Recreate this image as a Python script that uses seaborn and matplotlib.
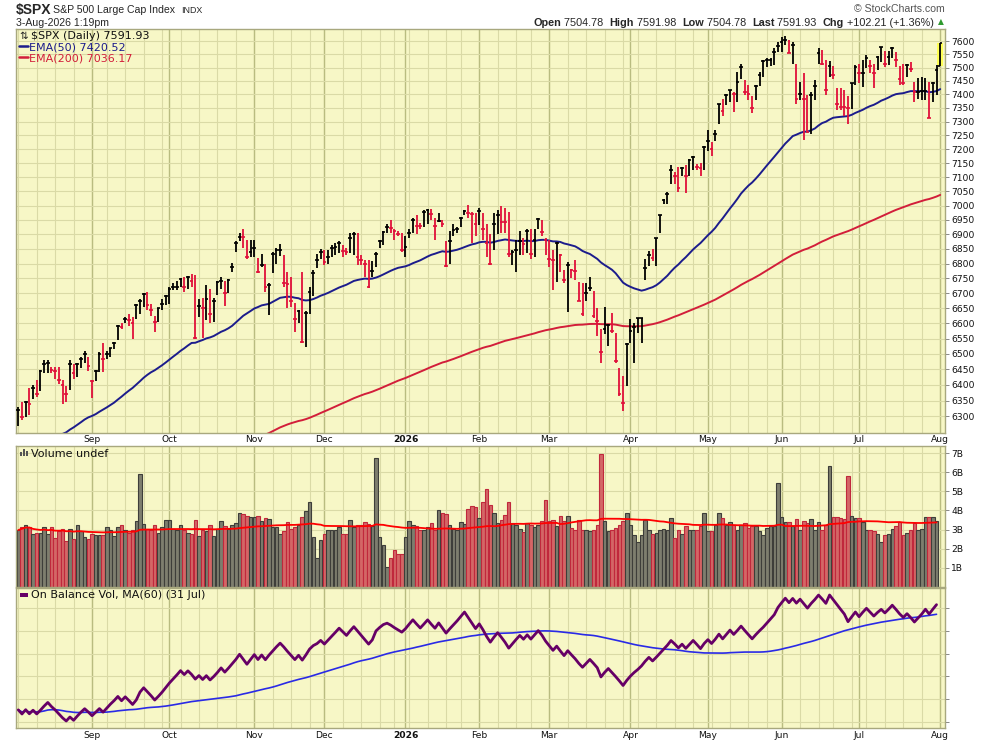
import numpy as np
import pandas as pd
import matplotlib
matplotlib.use("Agg")
import matplotlib.pyplot as plt
import seaborn as sns
from matplotlib.ticker import FixedLocator, NullLocator, FixedFormatter, NullFormatter
from matplotlib.patches import Rectangle

# ---------------------------------------------------------------- data
first_day = "2025-08-04"
last_day = "2026-08-03"
market_holidays = ["2025-09-01", "2025-11-27", "2025-12-25", "2026-01-01", "2026-01-19",
                   "2026-02-16", "2026-04-03", "2026-05-25", "2026-06-19", "2026-07-03"]

closes = [
    6320, 6298, 6345, 6340, 6390, 6370, 6445, 6468, 6470, 6447,
    6445, 6415, 6400, 6370, 6468, 6437, 6468, 6485, 6500, 6460,
    6413, 6446, 6500, 6485, 6500, 6518, 6535, 6590, 6587, 6615,
    6610, 6602, 6662, 6675, 6697, 6662, 6643, 6605, 6650, 6665,
    6692, 6715, 6720, 6722, 6747, 6720, 6753, 6740, 6552, 6657,
    6650, 6680, 6630, 6673, 6738, 6740, 6700, 6745, 6790, 6872,
    6892, 6890, 6823, 6838, 6852, 6773, 6795, 6722, 6728, 6834,
    6846, 6848, 6735, 6732, 6673, 6615, 6640, 6538, 6635, 6705,
    6768, 6811, 6840, 6805, 6823, 6852, 6858, 6870, 6844, 6840,
    6888, 6900, 6823, 6811, 6800, 6722, 6776, 6834, 6876, 6908,
    6925, 6922, 6912, 6900, 6846, 6858, 6906, 6949, 6930, 6928,
    6976, 6985, 6970, 6928, 6946, 6937, 6792, 6876, 6915, 6918,
    6955, 6980, 6975, 6972, 6937, 6980, 6918, 6870, 6797, 6937,
    6967, 6943, 6942, 6834, 6840, 6846, 6876, 6867, 6912, 6834,
    6882, 6953, 6908, 6882, 6814, 6811, 6872, 6828, 6743, 6794,
    6778, 6775, 6675, 6631, 6701, 6717, 6624, 6607, 6507, 6580,
    6596, 6575, 6477, 6370, 6343, 6531, 6575, 6589, 6616, 6618,
    6784, 6829, 6818, 6888, 6966, 7020, 7041, 7124, 7103, 7062,
    7133, 7106, 7162, 7171, 7136, 7134, 7207, 7228, 7201, 7255,
    7363, 7338, 7397, 7416, 7403, 7447, 7502, 7409, 7403, 7351,
    7431, 7472, 7525, 7527, 7530, 7559, 7581, 7597, 7604, 7553,
    7585, 7382, 7403, 7384, 7261, 7397, 7431, 7553, 7515, 7418,
    7505, 7472, 7363, 7353, 7352, 7351, 7441, 7502, 7480, 7481,
    7534, 7505, 7480, 7541, 7576, 7515, 7541, 7572, 7528, 7456,
    7441, 7509, 7496, 7409, 7410, 7411, 7412, 7314, 7441, 7489.72,
    7591.93,
]

opens = [
    6320, 6298, 6345, 6340, 6390, 6370, 6445, 6468, 6470, 6447,
    6445, 6415, 6400, 6370, 6468, 6437, 6468, 6485, 6500, 6460,
    6413, 6446, 6500, 6485, 6500, 6518, 6535, 6590, 6587, 6615,
    6610, 6602, 6662, 6675, 6697, 6662, 6643, 6605, 6650, 6665,
    6692, 6715, 6720, 6722, 6747, 6720, 6753, 6740, 6552, 6657,
    6650, 6680, 6630, 6673, 6738, 6740, 6700, 6745, 6790, 6872,
    6892, 6890, 6823, 6838, 6852, 6773, 6795, 6722, 6728, 6834,
    6846, 6848, 6735, 6732, 6673, 6615, 6640, 6538, 6635, 6705,
    6768, 6811, 6840, 6805, 6823, 6852, 6858, 6870, 6844, 6840,
    6888, 6900, 6823, 6811, 6800, 6722, 6776, 6834, 6876, 6908,
    6925, 6922, 6912, 6900, 6846, 6858, 6906, 6949, 6930, 6928,
    6976, 6985, 6970, 6928, 6946, 6937, 6792, 6876, 6915, 6918,
    6955, 6980, 6975, 6972, 6937, 6980, 6918, 6870, 6797, 6937,
    6967, 6943, 6942, 6834, 6840, 6846, 6876, 6867, 6912, 6834,
    6882, 6953, 6908, 6882, 6814, 6811, 6872, 6828, 6743, 6794,
    6778, 6775, 6675, 6631, 6701, 6717, 6624, 6607, 6507, 6580,
    6596, 6575, 6477, 6370, 6343, 6531, 6575, 6589, 6616, 6618,
    6784, 6829, 6818, 6888, 6966, 7020, 7041, 7124, 7103, 7062,
    7133, 7106, 7162, 7171, 7136, 7134, 7207, 7228, 7201, 7255,
    7363, 7338, 7397, 7416, 7403, 7447, 7502, 7409, 7403, 7351,
    7431, 7472, 7525, 7527, 7530, 7559, 7581, 7597, 7604, 7553,
    7585, 7382, 7403, 7384, 7261, 7397, 7431, 7553, 7515, 7418,
    7505, 7472, 7363, 7353, 7352, 7351, 7441, 7502, 7480, 7481,
    7534, 7505, 7480, 7541, 7576, 7515, 7541, 7572, 7528, 7456,
    7441, 7509, 7496, 7409, 7410, 7411, 7412, 7314, 7441, 7489.72,
    7504.78,
]

highs = [
    6330, 6345, 6350, 6390, 6400, 6415, 6447, 6480, 6480, 6458,
    6458, 6458, 6415, 6395, 6480, 6468, 6470, 6490, 6510, 6490,
    6415, 6448, 6505, 6535, 6508, 6520, 6540, 6593, 6600, 6620,
    6630, 6622, 6665, 6680, 6700, 6705, 6665, 6625, 6652, 6680,
    6695, 6720, 6735, 6742, 6750, 6755, 6758, 6765, 6762, 6680,
    6683, 6728, 6715, 6683, 6742, 6753, 6742, 6748, 6802, 6877,
    6905, 6917, 6882, 6880, 6880, 6820, 6834, 6800, 6733, 6840,
    6852, 6868, 6828, 6772, 6753, 6667, 6643, 6772, 6640, 6722,
    6778, 6834, 6850, 6848, 6848, 6864, 6870, 6876, 6864, 6852,
    6906, 6908, 6906, 6829, 6811, 6811, 6808, 6840, 6882, 6912,
    6937, 6949, 6918, 6912, 6906, 6894, 6918, 6955, 6967, 6940,
    6985, 6989, 6989, 6957, 6973, 6949, 6876, 6912, 6937, 6925,
    6961, 6985, 7001, 6979, 6973, 6991, 6973, 6937, 6900, 6973,
    6985, 6997, 6990, 6979, 6846, 6882, 6912, 6888, 6918, 6920,
    6918, 6958, 6949, 6888, 6880, 6845, 6874, 6834, 6778, 6806,
    6783, 6811, 6739, 6734, 6734, 6754, 6706, 6651, 6580, 6654,
    6597, 6635, 6569, 6455, 6428, 6537, 6613, 6602, 6618, 6618,
    6816, 6844, 6850, 6888, 6966, 7024, 7047, 7142, 7118, 7136,
    7136, 7142, 7165, 7174, 7148, 7150, 7213, 7270, 7225, 7270,
    7366, 7384, 7403, 7418, 7409, 7484, 7515, 7453, 7434, 7393,
    7434, 7484, 7528, 7534, 7534, 7572, 7597, 7614, 7619, 7604,
    7597, 7515, 7447, 7480, 7397, 7409, 7453, 7575, 7566, 7528,
    7525, 7505, 7422, 7422, 7418, 7393, 7443, 7509, 7515, 7530,
    7547, 7530, 7515, 7543, 7578, 7563, 7563, 7578, 7559, 7505,
    7515, 7515, 7521, 7447, 7459, 7466, 7459, 7447, 7447, 7509,
    7591.98,
]

lows = [
    6270, 6288, 6298, 6305, 6355, 6360, 6382, 6437, 6437, 6437,
    6420, 6403, 6340, 6345, 6383, 6420, 6425, 6455, 6470, 6445,
    6358, 6413, 6440, 6440, 6485, 6490, 6515, 6545, 6580, 6600,
    6590, 6550, 6615, 6630, 6655, 6645, 6625, 6570, 6605, 6645,
    6660, 6665, 6710, 6710, 6720, 6705, 6715, 6720, 6550, 6620,
    6553, 6610, 6600, 6605, 6695, 6715, 6657, 6700, 6772, 6840,
    6877, 6852, 6817, 6822, 6822, 6767, 6790, 6705, 6628, 6767,
    6800, 6825, 6722, 6650, 6655, 6572, 6600, 6537, 6522, 6630,
    6690, 6785, 6815, 6795, 6800, 6823, 6829, 6835, 6823, 6829,
    6835, 6829, 6794, 6794, 6754, 6718, 6754, 6787, 6852, 6864,
    6906, 6906, 6882, 6894, 6840, 6823, 6888, 6906, 6900, 6918,
    6925, 6937, 6949, 6882, 6943, 6925, 6790, 6800, 6894, 6906,
    6925, 6967, 6955, 6870, 6894, 6931, 6882, 6823, 6794, 6846,
    6900, 6906, 6906, 6823, 6794, 6770, 6829, 6829, 6835, 6817,
    6823, 6918, 6894, 6829, 6789, 6712, 6739, 6772, 6734, 6637,
    6750, 6745, 6673, 6624, 6673, 6706, 6618, 6558, 6472, 6564,
    6526, 6569, 6472, 6364, 6317, 6396, 6537, 6472, 6569, 6537,
    6743, 6793, 6810, 6791, 6905, 7006, 7006, 7077, 7077, 7047,
    7106, 7044, 7106, 7124, 7124, 7106, 7124, 7195, 7174, 7231,
    7292, 7319, 7359, 7372, 7335, 7372, 7456, 7397, 7378, 7331,
    7378, 7431, 7466, 7502, 7505, 7509, 7559, 7559, 7585, 7553,
    7515, 7366, 7378, 7234, 7261, 7255, 7378, 7515, 7509, 7397,
    7466, 7456, 7341, 7341, 7322, 7292, 7347, 7434, 7441, 7428,
    7500, 7478, 7422, 7490, 7521, 7502, 7509, 7534, 7502, 7434,
    7434, 7466, 7484, 7372, 7384, 7378, 7378, 7314, 7372, 7397,
    7504.78,
]

# daily volume in billions (last session not yet reported -> "undef")
volume_b = [
    2.97, 3.11, 3.23, 3.11, 2.74, 2.84, 2.84, 3.11, 2.74, 3.11,
    2.53, 2.93, 3.05, 2.39, 3.02, 2.50, 3.23, 2.93, 2.60, 2.50,
    2.79, 2.69, 2.69, 2.69, 3.11, 3.00, 2.65, 3.11, 3.23, 2.97,
    2.84, 2.97, 3.44, 5.90, 3.28, 3.02, 2.97, 3.26, 2.84, 3.11,
    3.49, 3.49, 3.05, 3.00, 3.23, 3.00, 2.84, 2.74, 3.49, 2.67,
    3.00, 2.91, 3.26, 2.64, 3.05, 3.44, 3.19, 3.05, 3.23, 3.32,
    3.89, 3.80, 3.72, 3.63, 3.63, 3.72, 3.44, 3.58, 3.53, 3.11,
    3.11, 2.79, 2.91, 3.37, 3.05, 3.11, 3.26, 3.66, 3.96, 4.42,
    2.62, 1.48, 2.44, 2.79, 2.97, 2.97, 2.97, 3.11, 2.74, 2.74,
    3.49, 3.11, 3.26, 3.26, 3.37, 3.28, 3.20, 6.77, 2.62, 2.18,
    1.05, 1.48, 1.92, 1.69, 1.69, 2.62, 3.44, 3.26, 3.18, 3.00,
    3.00, 3.14, 3.32, 3.00, 4.01, 3.89, 3.80, 3.23, 3.02, 3.00,
    3.37, 3.30, 4.10, 4.22, 4.19, 3.58, 4.45, 5.10, 4.28, 3.84,
    3.32, 3.49, 3.75, 4.45, 3.32, 3.26, 3.05, 2.88, 3.32, 3.23,
    3.14, 3.26, 3.44, 4.54, 3.44, 3.49, 3.18, 3.70, 3.44, 3.70,
    3.10, 2.97, 3.49, 2.97, 3.00, 2.91, 3.00, 3.23, 6.98, 3.44,
    2.91, 3.00, 3.10, 3.26, 3.44, 3.84, 3.26, 2.69, 2.32, 2.69,
    3.49, 2.97, 2.74, 2.84, 3.00, 3.05, 2.97, 3.58, 2.58, 2.97,
    2.79, 3.18, 3.00, 3.00, 3.00, 3.18, 3.89, 2.91, 2.91, 3.23,
    3.84, 3.58, 3.26, 3.37, 3.26, 3.00, 3.26, 3.32, 3.10, 3.18,
    3.18, 2.91, 2.69, 3.10, 3.18, 3.18, 5.46, 3.63, 3.37, 3.37,
    3.18, 3.53, 2.97, 3.44, 3.32, 3.53, 2.97, 3.37, 3.00, 3.26,
    6.32, 3.63, 3.63, 3.58, 3.53, 5.79, 3.73, 3.60, 3.58, 3.37,
    3.00, 2.97, 2.91, 2.74, 2.32, 2.69, 2.79, 3.05, 3.18, 3.37,
    2.69, 2.84, 2.97, 3.32, 2.97, 3.05, 3.63, 3.63, 3.63, 3.44,
]

ema50_seed = 6138.0
ema200_seed = 5868.0
ema50_label_value = 7420.52
ema200_label_value = 7036.17

price_ticks = list(range(6300, 7601, 50))
volume_ticks = [1, 2, 3, 4, 5, 6, 7]
volume_tick_labels = ["1B", "2B", "3B", "4B", "5B", "6B", "7B"]
month_labels = ["Sep", "Oct", "Nov", "Dec", "2026", "Feb", "Mar", "Apr", "May", "Jun", "Jul", "Aug"]

# ---------------------------------------------------------------- derived
days = pd.bdate_range(first_day, last_day)
days = days[~days.isin(pd.to_datetime(market_holidays))]
n = min(len(days), len(closes))
days = days[:n]
idx = np.arange(n)
o = np.array(opens[:n], float)
h = np.array(highs[:n], float)
l = np.array(lows[:n], float)
c = np.array(closes[:n], float)
down = np.r_[False, c[1:] < c[:-1]]

month_idx = [i for i in range(1, n) if days[i].month != days[i - 1].month]
week_idx = [i for i in range(n) if i == 0 or days[i].weekday() < days[i - 1].weekday()]


def ema(vals, span, seed):
    a = 2.0 / (span + 1)
    e = seed
    out = []
    for v in vals:
        e = e + a * (v - e)
        out.append(e)
    return np.array(out)


ema50 = ema(c, 50, ema50_seed)
ema200 = ema(c, 200, ema200_seed)

vol = np.array(volume_b, float)
nv = len(vol)
vidx = np.arange(nv)
vol_ma = pd.Series(vol).rolling(50, min_periods=1).mean().values
sgn = np.r_[0, np.sign(c[1:nv] - c[:nv - 1])]
obv = np.cumsum(sgn * vol)
obv_ma = pd.Series(obv).rolling(60, min_periods=1).mean().values

# ---------------------------------------------------------------- style
sns.set_theme(style="white")
plt.rcParams["font.family"] = ["DejaVu Sans"]
BG = "#F7F7C6"
GRID = "#DADAA6"
GRID_M = "#B9BC80"
FRAME = "#A8A87E"
UPC = "#000000"
DNC = "#E0103A"

W, H = 990, 744
fig = plt.figure(figsize=(W / 100, H / 100), dpi=100)
fig.patch.set_facecolor("white")


def rect(lft, top, rgt, bot):
    return [lft / W, 1 - bot / H, (rgt - lft) / W, (bot - top) / H]


axp = fig.add_axes(rect(16, 29.3, 945, 432.5))
axv = fig.add_axes(rect(16, 446, 945, 586.7))
axo = fig.add_axes(rect(16, 588, 945, 728.3))
XL = (-0.62, 251.3)

for ax in (axp, axv, axo):
    ax.set_facecolor(BG)
    ax.set_xlim(*XL)
    for s in ax.spines.values():
        s.set_color(FRAME)
        s.set_linewidth(1.0)
    for i in week_idx:
        ax.axvline(i, color=GRID, lw=0.8, zorder=0)
    for i in month_idx:
        ax.axvline(i, color=GRID_M, lw=1.0, zorder=0)
    ax.yaxis.tick_right()
    ax.tick_params(axis="y", which="major", length=3, width=0.7, color="#888888",
                   labelsize=6.6, pad=1.5, right=True, left=False,
                   labelright=True, labelleft=False, labelcolor="#111111")
    ax.tick_params(axis="x", length=0, labelsize=6.6, pad=2.0, labelcolor="#111111")
    ax.set_xlabel("")
    ax.set_ylabel("")

# ---------------- price panel
axp.set_yscale("log")
axp.set_ylim(6249.6, 7644.6)
axp.yaxis.set_major_locator(FixedLocator(price_ticks))
axp.yaxis.set_major_formatter(FixedFormatter([str(t) for t in price_ticks]))
axp.yaxis.set_minor_locator(NullLocator())
axp.yaxis.set_minor_formatter(NullFormatter())
for t in price_ticks:
    axp.axhline(t, color=GRID, lw=0.8, zorder=0)

# highlight of the latest session
axp.add_patch(Rectangle((n - 1 - 0.9, o[-1]), 1.6, c[-1] - o[-1], facecolor="#FFFF55",
                        edgecolor="none", zorder=1.5))

cols = np.where(down, DNC, UPC)
cols[-1] = UPC
axp.vlines(idx, l, h, colors=cols, lw=1.3, zorder=3)
axp.hlines(o, idx - 0.5, idx, colors=cols, lw=1.2, zorder=3)
axp.hlines(c, idx, idx + 0.5, colors=cols, lw=1.2, zorder=3)

sns.lineplot(x=idx, y=ema200, ax=axp, color="#D21E3A", lw=1.4, zorder=2, legend=False)
sns.lineplot(x=idx, y=ema50, ax=axp, color="#1C1C8C", lw=1.4, zorder=2, legend=False)
axp.set_xlim(*XL)
axp.set_ylim(6249.6, 7644.6)
axp.set_xticks(month_idx)
axp.set_xticklabels(month_labels)
axp.set_xlabel("")
axp.set_ylabel("")

# ---------------- volume panel
fills = np.where(down[:nv], "#D46666", "#7E7E6E")
edges = np.where(down[:nv], "#C0283C", "#3E3E3A")
for t in volume_ticks:
    axv.axhline(t, color=GRID, lw=0.8, zorder=0)
axv.bar(vidx, vol, width=0.95, color=fills, edgecolor=edges, linewidth=0.8, zorder=2)
sns.lineplot(x=vidx, y=vol_ma, ax=axv, color="#FF0000", lw=1.3, zorder=3, legend=False)
axv.set_ylim(0, 7.38)
axv.set_xlim(*XL)
axv.set_yticks(volume_ticks)
axv.set_yticklabels(volume_tick_labels)
axv.set_xticks(month_idx)
axv.set_xticklabels([])
axv.set_xlabel("")
axv.set_ylabel("")

# ---------------- OBV panel
lo = min(obv.min(), obv_ma.min())
hi = max(obv.max(), obv_ma.max())
s_px = (hi - lo) / (721 - 595)
top = hi + (595 - 588) * s_px
bot = lo - (728.3 - 721) * s_px
gvals = [top - (p - 588) * s_px for p in (608, 631, 653.5, 676, 699, 722)]
for g in gvals:
    axo.axhline(g, color=GRID, lw=0.8, zorder=0)
sns.lineplot(x=vidx, y=obv_ma, ax=axo, color="#2A2AE6", lw=1.2, zorder=2, legend=False)
sns.lineplot(x=vidx, y=obv, ax=axo, color="#660066", lw=2.0, zorder=3, legend=False)
axo.set_ylim(bot, top)
axo.set_xlim(*XL)
axo.set_yticks(gvals)
axo.set_yticklabels([])
axo.set_xticks(month_idx)
axo.set_xticklabels(month_labels)
axo.set_xlabel("")
axo.set_ylabel("")

for ax in (axp, axo):
    for lab in ax.get_xticklabels():
        if lab.get_text() == "2026":
            lab.set_fontweight("bold")


# ---------------- texts
def ftxt(x, y, s, **kw):
    kw.setdefault("va", "baseline")
    return fig.text(x / W, 1 - y / H, s, **kw)


ftxt(16, 13.6, "$SPX", fontsize=10, fontweight="bold", family="Liberation Sans")
ftxt(53, 12.8, "S&P 500 Large Cap Index", fontsize=7.6, family="Liberation Sans")
ftxt(181, 12.8, "INDX", fontsize=6.4, family="Liberation Sans")
ftxt(16, 25.5, "3-Aug-2026 1:19pm", fontsize=7.6, family="Liberation Sans")
ftxt(945, 12.0, "\u00a9 StockCharts.com", fontsize=7.6, family="Liberation Sans",
     color="#555555", ha="right")

prev = c[-2]
chg = c[-1] - prev
pieces = [("Open", True, 0), (" %.2f" % o[-1], False, 6), ("High", True, 0),
          (" %.2f" % h[-1], False, 6), ("Low", True, 0), (" %.2f" % l[-1], False, 6),
          ("Last", True, 0), (" %.2f" % c[-1], False, 6), ("Chg", True, 0),
          (" %+.2f (%+.2f%%)" % (chg, chg / prev * 100), False, 3)]
renderer = fig.canvas.get_renderer()
objs = []
total = 0.0
for txt, bold, gap in pieces:
    t = ftxt(0, 25.5, txt, fontsize=7.8, family="Liberation Sans",
             fontweight="bold" if bold else "normal")
    w = t.get_window_extent(renderer).width
    objs.append((t, w, gap))
    total += w + gap
x0 = 937 - total
for t, w, gap in objs:
    t.set_x(x0 / W)
    x0 += w + gap
ftxt(938, 24.5, "\u25b2", fontsize=5.5, color="#2E9A2E")

# legends
ftxt(19, 39.3, "\u21c5", fontsize=7.5, color="#222222")
ftxt(31, 39.3, "$SPX (Daily) %.2f" % c[-1], fontsize=8, color="#111111")
fig.add_artist(plt.Line2D([19 / W, 28 / W], [1 - 45.5 / H, 1 - 45.5 / H], color="#1C1C8C", lw=1.8))
ftxt(29, 50.3, "EMA(50) %.2f" % ema50_label_value, fontsize=8, color="#1C1C8C")
fig.add_artist(plt.Line2D([19 / W, 28 / W], [1 - 56.8 / H, 1 - 56.8 / H], color="#D21E3A", lw=1.8))
ftxt(29, 61.5, "EMA(200) %.2f" % ema200_label_value, fontsize=8, color="#D21E3A")

for bx, bh in ((19.5, 4.5), (22.5, 7.0), (25.5, 5.5)):
    fig.add_artist(Rectangle((bx / W, 1 - 456.5 / H), 2.0 / W, bh / H,
                             facecolor="#555555", edgecolor="none"))
ftxt(31, 456.8, "Volume undef", fontsize=8, color="#111111")
fig.add_artist(Rectangle((19.5 / W, 1 - 596.5 / H), 8 / W, 3.5 / H,
                         facecolor="#660066", edgecolor="none"))
ftxt(31, 598.0, "On Balance Vol, MA(60) (31 Jul)", fontsize=8, color="#111111")

fig.savefig("out.png", dpi=100, facecolor="white")
